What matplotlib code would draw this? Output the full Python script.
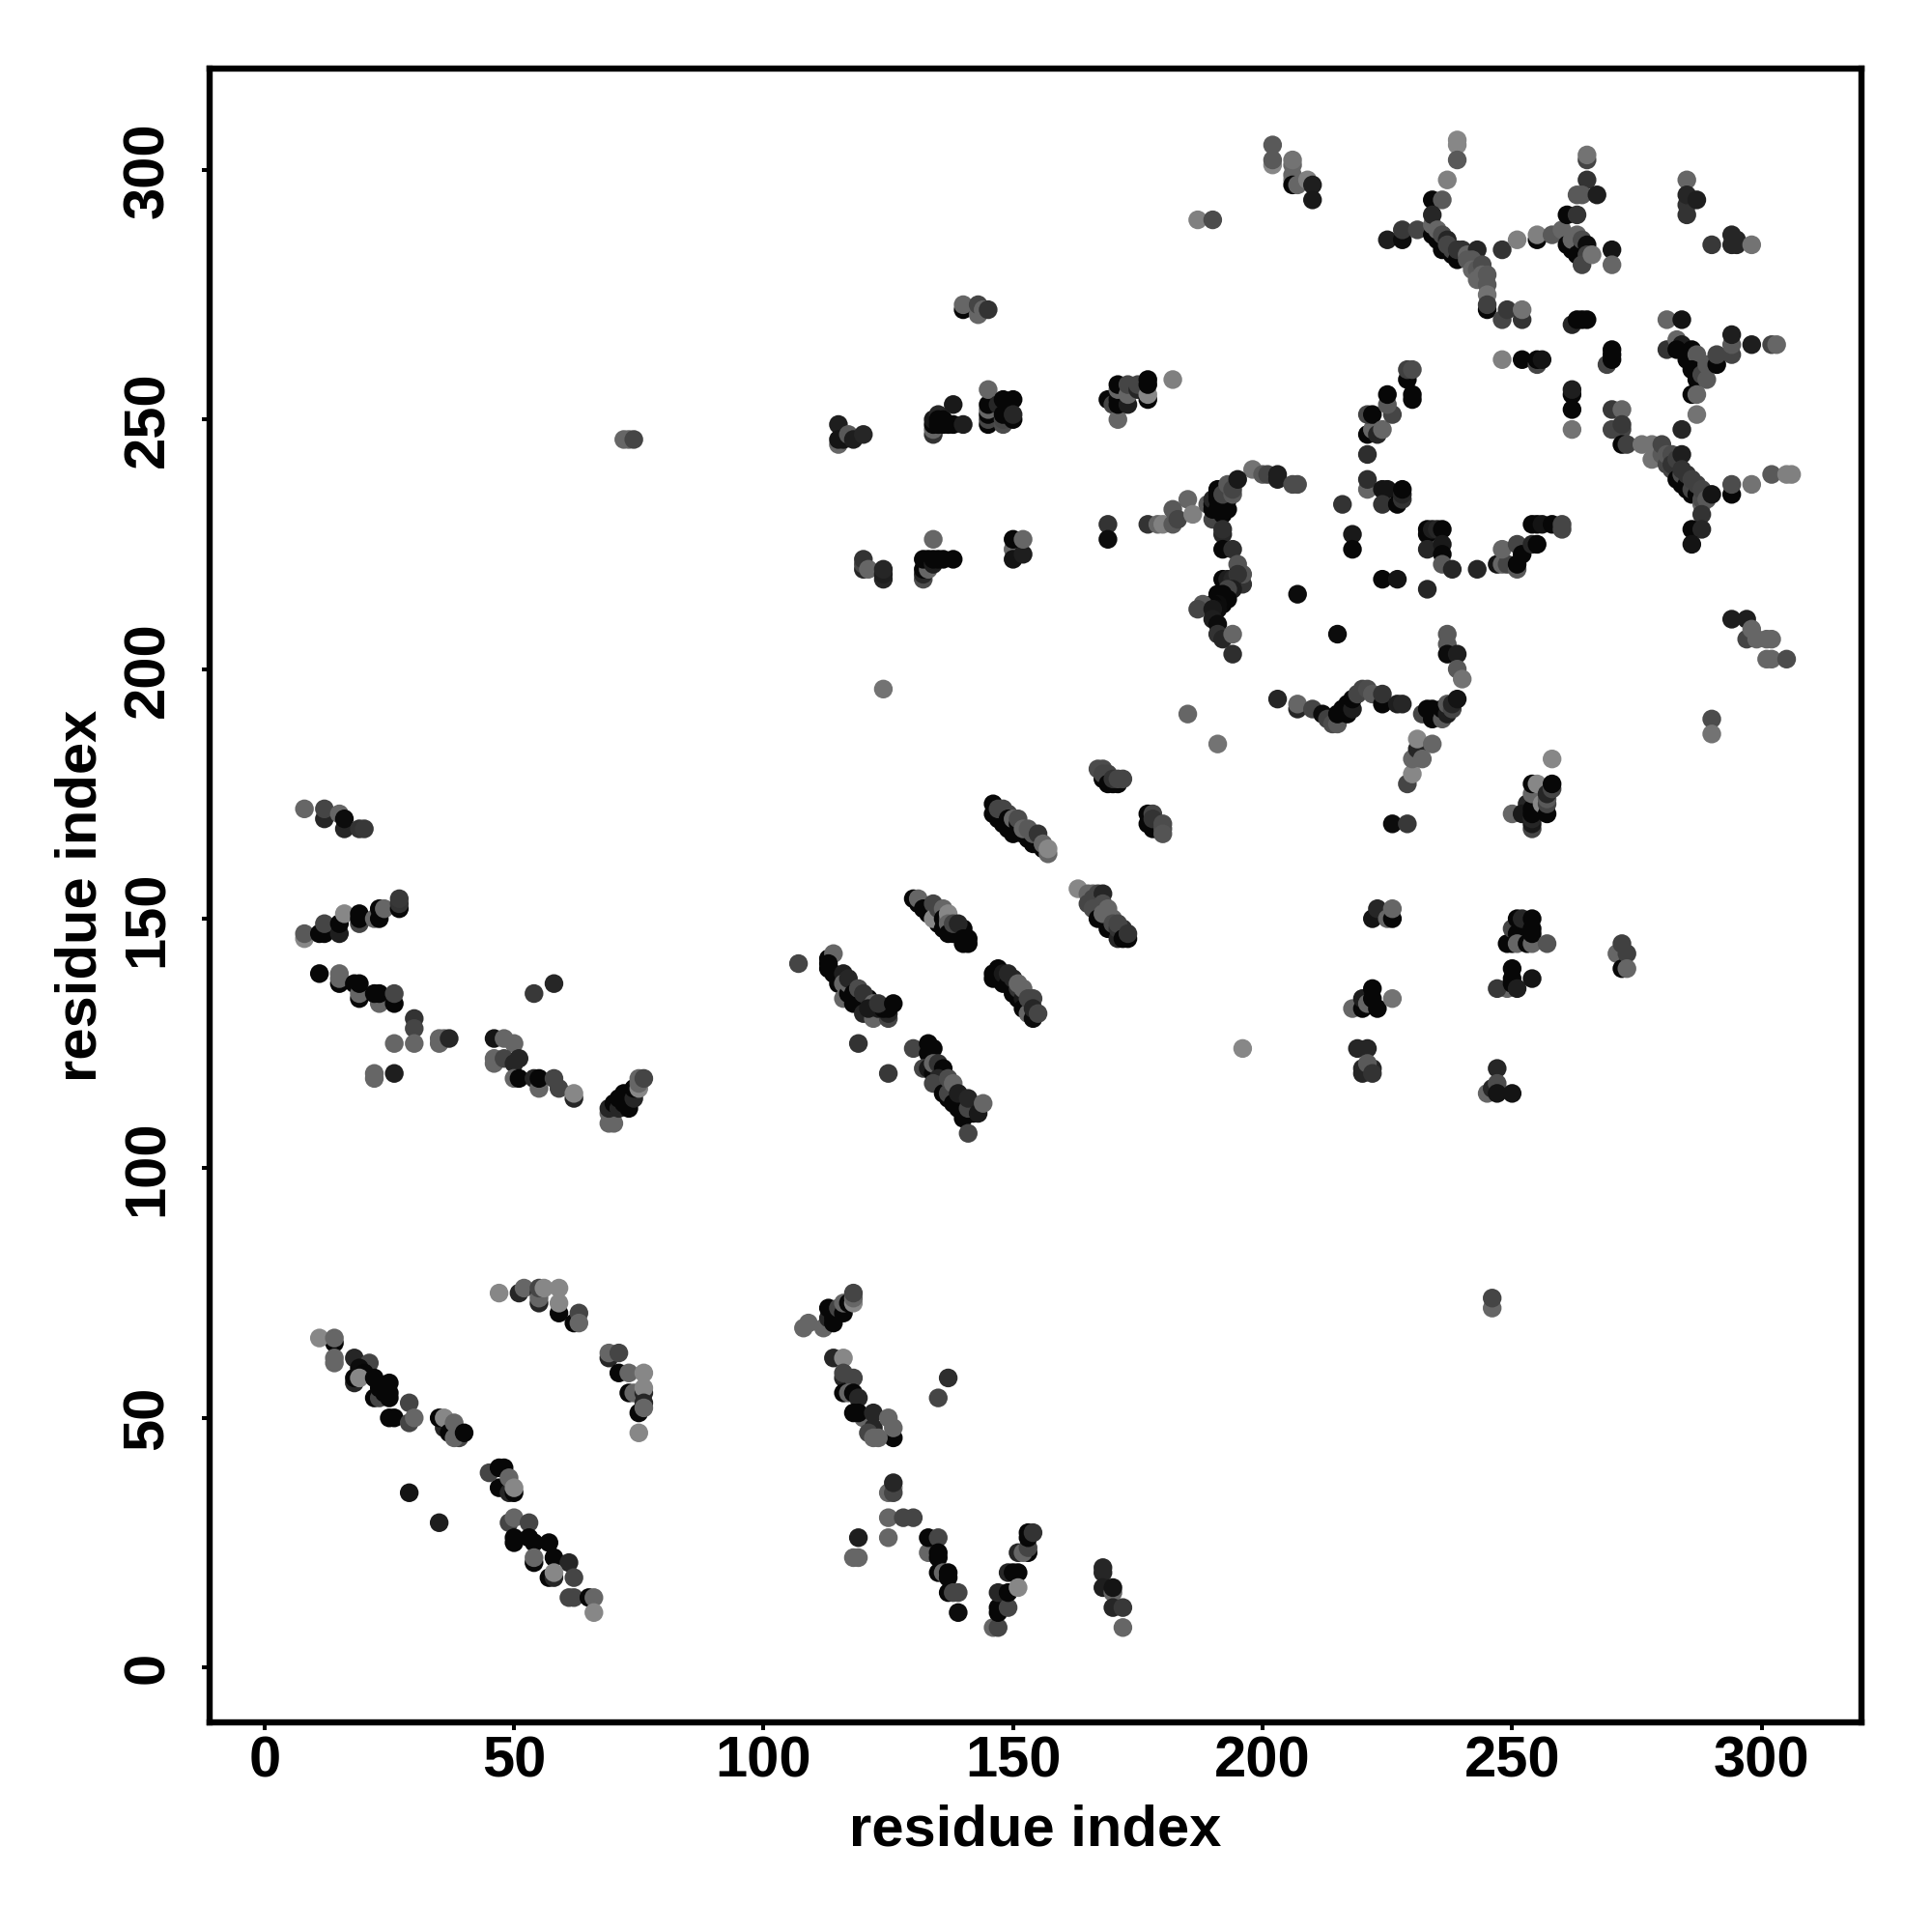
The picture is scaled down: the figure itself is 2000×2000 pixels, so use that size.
#!/usr/bin/env python3
import matplotlib
matplotlib.use('Agg')
matplotlib.rcParams.update({'font.family': ['Liberation Sans', 'DejaVu Sans'], 'font.weight': 'bold'})
import matplotlib.pyplot as plt

# contacts, (residue i, residue j, grey score), one list per region
lower_left = [
    (14,65,.03),(11,66,.53),(14,66,.4),(14,62,.4),(14,61,.4),(18,57,.15),(18,58,.03),(18,62,.15),(21,61,.27),(19,60,.05),(20,59,.03),(19,58,.53),
    (22,54,.03),(23,54,.27),(22,58,.03),(23,56,.03),(24,55,.03),(25,57,.03),(25,55,.03),(25,54,.03),(29,53,.27),(25,50,.03),(26,50,.03),(29,49,.27),(30,50,.4),
    (36,48,.15),(35,50,.03),(36,50,.53),(37,47,.03),(39,46,.27),(38,46,.4),(38,49,.4),(40,47,.03),
    (47,36,.03),(45,39,.27),(47,40,.03),(48,40,.03),(49,35,.15),(50,35,.03),(49,38,.4),(50,36,.53),
    (49,29,.27),(50,30,.4),(53,29,.27),(50,25,.03),(50,26,.03),(53,26,.03),(54,25,.03),(57,25,.03),(54,21,.03),(54,22,.4),(58,22,.03),(61,21,.15),
    (57,18,.03),(58,18,.15),(58,19,.53),(62,18,.27),(61,14,.27),(62,14,.27),(65,14,.03),(66,14,.4),(66,11,.53),
    (29,35,.08),(35,29,.12),
]
lower_arc = [
    (47,75,.53),(51,75,.15),(52,76,.4),(55,73,.15),(55,75,.15),(55,74,.4),(55,76,.27),(56,76,.53),(59,76,.53),(59,71,.03),(59,73,.53),(62,69,.03),(63,71,.27),(63,69,.4),
    (69,62,.15),(69,63,.4),(71,63,.27),(71,59,.03),(73,59,.4),(76,59,.53),(73,55,.03),(74,55,.4),(76,55,.15),(76,56,.53),(75,51,.03),(76,53,.15),(76,52,.4),(75,47,.53),
]
lower_mid = [
    (108,68,.4),(109,69,.4),(112,68,.4),(113,70,.15),(114,69,.03),(114,70,.03),(113,72,.03),(115,72,.27),(116,71,.03),(116,73,.4),(117,73,.03),(118,73,.53),(118,74,.4),(118,75,.27),
    (114,62,.15),(116,62,.53),(116,58,.15),(116,59,.27),(118,58,.27),(116,55,.03),(117,55,.4),(118,55,.03),(119,54,.15),(120,50,.4),(118,51,.03),(119,51,.03),
    (122,51,.15),(122,48,.15),(121,47,.27),(126,46,.03),(122,46,.4),(123,46,.4),(125,50,.4),(126,48,.4),
    (126,36,.53),(125,35,.4),(126,35,.27),(126,37,.15),(125,30,.4),(128,30,.27),(130,30,.27),(125,26,.4),(119,26,.12),(118,22,.4),(119,22,.4),(137,58,.18),(135,54,.27),
    (133,23,.4),(133,26,.03),(135,26,.27),(135,22,.03),(135,23,.03),(135,19,.03),(136,19,.4),(137,18,.03),(137,19,.03),(137,15,.03),(138,15,.27),(139,15,.27),(139,11,.05),
    (146,8,.4),(147,8,.27),(147,11,.03),(147,12,.03),(147,15,.15),(149,12,.27),(149,15,.03),(149,19,.15),(150,19,.03),(151,19,.03),(151,16,.53),(151,23,.15),
    (153,23,.03),(152,23,.4),(153,24,.27),(153,26,.03),(153,27,.03),(154,27,.2),
    (168,20,.15),(168,19,.15),(168,16,.12),(170,15,.4),(170,16,.08),(170,12,.15),(172,12,.22),(172,8,.4),
    (246,72,.4),(246,74,.27),
]
left_band = [
    (8,172,.4),(12,170,.15),(12,172,.27),(15,171,.4),(16,168,.15),(16,170,.05),(19,168,.2),(20,168,.22),
    (8,146,.53),(8,147,.35),(11,147,.03),(12,147,.03),(12,149,.27),(15,147,.12),(15,149,.03),(16,151,.53),(19,149,.27),(19,150,.03),(19,151,.03),
    (22,150,.4),(23,150,.03),(23,152,.03),(24,152,.4),(27,152,.03),(27,153,.2),(27,154,.22),
    (11,139,.03),(15,137,.03),(15,138,.4),(15,139,.4),(18,137,.03),(19,134,.03),(19,135,.4),(19,137,.03),(23,133,.4),(22,135,.03),(23,135,.03),(26,133,.03),(26,135,.27),
    (30,130,.2),(30,128,.27),(30,125,.4),(26,125,.4),(22,118,.4),(22,119,.4),(26,119,.12),(35,125,.4),(35,126,.4),(36,126,.4),(37,126,.15),
    (54,135,.22),(58,137,.15),
    (46,126,.08),(48,126,.4),(50,125,.4),(46,121,.4),(46,122,.4),(48,122,.27),(50,121,.15),(51,122,.15),(50,118,.4),(51,118,.03),(54,118,.15),(55,116,.4),(55,118,.03),
    (58,118,.27),(59,116,.27),(62,114,.15),(62,115,.53),
    (69,109,.4),(70,109,.4),(69,111,.4),(69,112,.15),(70,113,.03),(71,112,.15),(71,114,.03),(72,113,.03),(73,112,.03),(72,115,.03),(74,114,.15),(74,116,.03),(75,116,.53),(75,117,.4),(75,118,.4),(76,118,.27),
]
centre_strands = [
    (107,141,.27),(113,140,.03),(113,142,.03),(114,143,.4),(113,141,.03),(114,139,.03),(115,137,.03),(115,138,.03),(116,139,.12),(116,137,.4),(116,134,.4),(117,135,.03),(117,137,.4),(117,138,.15),(118,135,.03),(118,133,.03),
    (119,133,.03),(120,133,.03),(121,134,.03),(120,131,.15),(119,136,.3),(120,135,.2),(122,133,.4),(122,130,.4),(125,130,.27),(125,131,.15),(121,132,.1),(123,132,.1),(124,132,.03),(125,132,.03),(123,133,.2),(126,133,.03),(119,125,.2),(125,119,.22),
    (130,124,.27),(133,123,.03),(133,125,.03),(134,124,.03),(132,120,.27),(133,120,.1),(134,119,.03),(135,117,.03),(134,121,.4),(135,121,.2),(136,120,.03),(135,118,.15),(134,117,.27),(136,115,.03),(137,114,.03),(137,115,.27),(137,118,.3),(138,113,.03),(138,117,.4),
    (139,112,.03),(140,110,.03),(142,111,.03),(139,114,.03),(140,113,.03),(139,115,.12),(141,112,.27),(141,114,.15),(143,111,.1),(144,113,.4),(141,107,.27),
    (130,154,.03),(131,153,.03),(131,154,.4),(132,152,.03),(133,151,.03),(134,151,.03),(134,153,.27),(135,149,.03),(134,150,.53),(135,152,.27),(136,152,.4),(136,150,.03),(136,148,.03),(137,150,.35),(137,151,.53),(137,149,.4),(137,147,.03),(138,147,.03),(140,148,.03),(138,149,.27),(139,149,.15),
    (140,145,.03),(141,145,.03),(140,146,.03),(141,146,.03),
    (146,138,.03),(146,139,.03),(147,138,.03),(147,140,.03),(148,137,.03),(148,139,.1),(149,137,.03),(150,135,.03),(149,139,.15),(150,138,.15),(151,134,.03),(151,136,.2),(151,137,.4),(152,134,.1),(152,136,.4),(152,132,.03),(153,133,.03),(153,131,.4),(154,130,.05),(153,134,.27),(154,134,.27),(154,132,.15),(155,131,.27),
    (146,171,.03),(146,173,.03),(147,170,.03),(148,169,.03),(147,172,.27),(149,168,.03),(150,167,.03),(148,172,.27),(149,171,.27),(149,170,.03),(150,170,.4),(151,169,.03),(151,170,.3),(152,167,.03),(153,166,.03),(154,165,.03),(155,165,.03),(156,164,.03),(152,168,.4),(153,168,.35),(154,167,.35),(155,167,.2),(156,165,.4),(157,163,.4),(157,164,.53),
    (163,156,.53),(165,155,.4),(166,155,.4),(166,154,.27),(167,155,.27),(168,155,.15),(165,153,.27),(166,152,.3),(167,150,.03),(168,150,.03),(169,148,.03),(168,153,.3),(169,150,.03),(170,148,.03),(168,151,.4),(169,152,.4),(170,150,.4),(170,149,.3),(171,146,.15),(171,148,.2),(172,148,.2),(171,149,.27),(172,146,.03),(173,146,.03),(173,147,.2),
    (168,178,.03),(170,177,.03),(167,180,.3),(168,180,.3),(169,179,.27),(168,179,.27),(169,177,.03),(171,177,.03),(170,178,.2),(171,178,.27),(172,178,.27),
    (177,169,.03),(178,168,.03),(177,171,.03),(178,171,.27),(178,170,.2),(180,169,.3),(180,168,.3),(180,167,.33),
    (185,191,.4),(191,185,.45),(196,124,.53),(124,196,.45),
]
right_mid = [
    (229,177,.27),(230,179,.53),(230,182,.4),(231,184,.15),(232,182,.4),(231,186,.53),(234,185,.4),(226,169,.05),(229,169,.22),(258,182,.53),
    (250,171,.4),(253,173,.15),(252,171,.1),(254,168,.27),(254,169,.1),(254,170,.15),(254,171,.03),(254,172,.03),(254,175,.4),(254,177,.03),(255,177,.53),
    (256,173,.53),(257,171,.03),(257,173,.27),(257,174,.35),(257,175,.15),(258,176,.27),(258,177,.03),
    (222,150,.08),(223,152,.15),(225,150,.4),(226,150,.03),(226,152,.4),
    (249,145,.03),(250,145,.03),(250,148,.27),(251,147,.03),(251,145,.4),(251,150,.03),(252,150,.15),(253,145,.03),(254,145,.4),(254,147,.03),(254,148,.03),(254,150,.03),(257,145,.33),
    (249,136,.4),(247,136,.22),(250,140,.03),(250,137,.03),(250,138,.03),(251,136,.12),(254,138,.08),
    (271,143,.4),(272,140,.03),(272,145,.25),(273,143,.25),(273,140,.4),
    (218,132,.4),(220,132,.03),(220,134,.12),(221,133,.4),(222,134,.03),(222,136,.03),(223,132,.03),(226,134,.45),
    (219,124,.15),(221,124,.15),(222,120,.15),(220,119,.15),(220,120,.15),(221,121,.35),(222,119,.2),
    (247,120,.15),(245,115,.4),(246,116,.15),(247,117,.3),(247,115,.08),(250,115,.08),
    (290,190,.3),(290,187,.45),(294,210,.12),(297,210,.12),(297,206,.27),(298,208,.4),(299,206,.4),(301,206,.4),(302,206,.4),(301,202,.4),(302,202,.4),(305,202,.3),
]
upper_mid = [
    (72,246,.4),(73,246,.4),(74,246,.27),
    (115,249,.12),(115,245,.4),(115,246,.08),(116,246,.08),(117,247,.35),(118,246,.12),(120,247,.15),
    (134,247,.2),(134,248,.4),(134,249,.03),(134,250,.1),(135,251,.15),(135,250,.03),(135,249,.03),(136,249,.03),(136,250,.03),(137,249,.03),(138,249,.03),(138,253,.1),(140,249,.12),
    (145,249,.03),(145,250,.27),(145,251,.03),(145,252,.4),(145,253,.03),(145,256,.4),(148,249,.3),(148,250,.27),(147,253,.15),(148,251,.03),(148,254,.03),(150,250,.03),(150,254,.03),(150,251,.15),
    (169,254,.03),(170,253,.27),(171,250,.4),(171,253,.03),(171,254,.03),(171,256,.4),(171,257,.03),(173,253,.12),(173,255,.4),(173,257,.27),(175,256,.15),(175,257,.27),(177,254,.03),(177,255,.53),(177,257,.03),(177,258,.03),(182,258,.5),
    (120,220,.15),(120,221,.27),(120,222,.2),(121,220,.4),(124,218,.15),(124,219,.12),(124,220,.15),
    (132,218,.3),(132,219,.15),(132,220,.03),(133,220,.4),(132,222,.03),(133,222,.03),(134,221,.12),(134,222,.03),(135,222,.03),(136,222,.03),(138,222,.03),(134,226,.4),
    (150,224,.4),(150,222,.08),(152,223,.12),(150,226,.03),(152,226,.4),
    (202,305,.35),(202,301,.53),(202,302,.35),(206,298,.53),(206,299,.4),(206,301,.4),(206,302,.45),(206,297,.03),(207,297,.4),(209,298,.5),(210,297,.12),(210,294,.1),(187,290,.5),(190,290,.3),
]
upper_right = [
    (239,305,.53),(239,306,.53),(239,302,.35),(237,298,.5),(234,294,.03),(236,294,.35),
    (225,286,.12),(228,286,.05),(228,288,.22),(231,288,.27),(234,287,.03),(234,289,.4),(234,291,.15),(235,286,.03),(236,284,.03),(237,284,.03),(238,283,.03),(235,288,.4),(236,287,.3),(237,286,.15),(237,285,.27),(238,284,.27),(239,282,.03),(240,283,.03),(239,284,.2),(240,284,.2),(241,283,.4),
    (243,284,.15),(241,282,.35),(242,282,.35),(242,280,.4),(243,280,.35),(243,278,.4),(244,281,.3),(244,279,.4),(245,279,.35),(245,277,.35),(245,275,.45),(245,272,.03),(245,273,.25),(248,270,.27),(249,272,.22),(252,270,.2),(252,272,.45),
    (248,284,.2),(251,286,.5),(255,286,.03),(255,287,.5),(258,287,.35),(260,288,.4),(261,291,.03),(263,291,.2),(265,298,.2),(265,302,.27),(265,303,.45),(263,295,.35),(264,295,.35),(267,295,.12),
    (261,285,.03),(262,284,.03),(262,286,.4),(263,287,.4),(263,283,.03),(264,284,.03),(264,286,.3),(265,285,.05),(265,283,.25),(264,281,.27),(266,283,.45),(270,284,.08),(270,281,.4),
    (285,298,.4),(285,291,.2),(285,293,.2),(285,295,.15),(287,294,.12),(290,285,.22),(294,287,.15),(294,285,.15),(295,285,.15),(295,286,.15),(298,285,.45),
    (262,269,.15),(263,270,.03),(264,270,.03),(265,270,.03),(269,261,.27),(270,262,.03),(270,263,.03),(270,264,.03),
    (248,262,.5),(252,262,.03),(255,261,.27),(255,262,.03),(256,262,.08),(262,255,.03),(262,256,.12),(262,252,.03),(262,248,.45),
    (270,252,.22),(272,252,.4),(270,248,.27),(272,248,.27),(272,249,.22),(272,245,.03),(273,245,.25),
    (281,270,.4),(284,270,.08),(281,264,.2),(283,266,.4),(284,265,.12),(283,264,.03),(286,264,.03),(285,262,.03),(287,263,.35),(286,260,.03),(287,258,.03),(288,259,.27),(289,261,.35),(289,258,.35),(291,261,.03),(291,263,.27),
    (294,263,.27),(294,265,.35),(294,267,.12),(298,265,.12),(302,265,.27),(303,265,.4),(286,255,.03),(287,255,.4),(287,251,.45),(284,248,.15),
    (276,245,.45),(278,245,.45),(278,242,.45),(280,243,.35),(280,245,.27),(281,241,.27),(281,243,.35),(282,243,.3),(282,240,.27),(282,241,.2),(283,242,.25),(284,243,.12),(283,238,.03),(284,237,.03),(285,236,.03),(286,235,.03),(284,239,.3),(284,240,.2),(285,237,.03),(285,239,.2),(286,236,.27),(286,238,.25),(287,235,.03),(287,237,.25),(288,233,.4),(288,234,.3),(288,236,.27),(289,234,.35),(290,235,.08),
    (294,235,.03),(294,237,.3),(298,237,.45),(302,239,.35),(305,239,.5),(306,239,.5),(288,231,.2),(286,228,.03),(288,228,.15),(286,225,.08),
]
upper_loops = [
    (185,234,.4),(177,229,.2),(179,229,.4),(180,229,.5),(182,229,.35),(182,232,.35),(183,230,.27),(186,231,.5),(169,229,.2),(169,226,.05),
    (198,240,.45),(200,239,.35),(201,239,.27),(203,238,.12),(203,239,.12),(206,237,.3),(207,237,.3),
    (189,233,.35),(190,230,.27),(190,232,.03),(190,233,.03),(190,234,.15),(191,234,.03),(191,235,.03),(191,236,.03),(191,232,.03),(192,231,.03),(192,233,.03),(192,234,.03),(193,232,.03),(193,234,.03),(192,235,.27),(193,237,.35),(194,235,.35),(194,236,.27),(195,238,.1),
    (192,227,.15),(192,228,.18),(192,224,.03),(194,224,.18),(195,221,.33),(196,217,.2),(196,219,.33),(192,218,.03),(193,218,.12),(194,218,.15),(195,219,.2),(194,216,.12),(193,216,.27),(193,214,.03),(192,215,.03),(192,213,.03),(191,215,.03),(191,213,.05),(190,213,.03),(188,213,.35),(187,212,.27),(191,212,.05),(190,212,.1),(190,210,.12),(191,209,.05),(191,207,.2),(192,206,.15),(194,207,.4),(194,203,.18),
    (207,215,.05),(215,207,.05),(216,233,.2),(218,227,.1),(218,224,.03),(221,243,.18),(221,236,.4),(221,238,.18),(224,236,.08),(225,236,.08),(224,233,.2),(227,233,.03),(228,234,.2),(228,235,.15),(228,236,.03),(224,218,.03),(227,218,.08),(233,216,.15),
    (221,247,.03),(222,248,.4),(223,247,.15),(221,251,.27),(222,251,.03),(224,248,.4),(226,251,.27),(225,253,.35),(225,255,.03),(229,258,.03),(229,260,.25),(230,260,.3),(230,254,.03),(230,255,.03),
    (233,227,.03),(233,228,.03),(234,228,.12),(235,228,.15),(236,228,.03),(233,224,.15),(236,225,.1),(236,223,.03),(236,221,.35),(238,220,.15),(243,220,.15),
    (247,221,.08),(248,221,.4),(249,221,.27),(248,224,.4),(251,220,.35),(251,221,.03),(251,225,.27),(252,223,.03),(254,225,.15),(255,225,.03),(254,229,.03),(255,229,.03),(256,229,.08),(258,229,.03),(260,228,.27),(260,229,.27),
    (203,194,.15),(207,192,.15),(207,193,.4),(210,192,.27),(212,191,.05),(213,190,.25),(214,189,.3),(215,189,.35),(215,191,.03),(216,192,.03),(217,191,.03),(217,193,.03),(218,192,.12),(218,194,.03),(219,195,.27),(220,196,.27),(221,196,.3),(222,195,.35),
    (224,193,.03),(224,195,.2),(227,193,.12),(228,193,.15),(232,191,.27),(233,192,.03),(234,190,.03),(234,192,.03),(235,191,.03),(236,190,.35),(236,192,.03),(237,191,.12),(237,193,.35),(238,192,.27),(238,193,.15),(239,194,.08),
    (237,205,.35),(237,207,.35),(237,203,.05),(239,203,.12),(239,200,.35),(240,198,.45),
    (140,272,.03),(140,273,.4),(143,271,.4),(143,273,.27),(144,272,.4),(145,272,.2),
]

regions = [lower_left, lower_arc, lower_mid, left_band, centre_strands, right_mid, upper_mid, upper_right, upper_loops]
contacts = [c for region in regions for c in region]
res_i = [c[0] for c in contacts]
res_j = [c[1] for c in contacts]
score = [c[2] for c in contacts]

fig = plt.figure(figsize=(20, 20), dpi=100)
ax = fig.add_axes([217/2000, 1 - 1783/2000, 1710/2000, 1712/2000])
ax.scatter(res_i, res_j, c=score, cmap='gray', vmin=0, vmax=1, s=195, linewidths=0)

ax.set_xlim(-11, 320)
ax.set_ylim(-11, 320.3)
ax.set_xticks(range(0, 301, 50))
ax.set_yticks(range(0, 301, 50))
ax.tick_params(length=6, width=2.9, labelsize=43)
ax.tick_params(axis='x', pad=4)
ax.tick_params(axis='y', pad=20)
for lab in ax.get_yticklabels():
    lab.set_rotation(90)
    lab.set_va('center')
for spine in ax.spines.values():
    spine.set_linewidth(4.6)
ax.set_xlabel('residue index', fontsize=43, fontweight='bold', labelpad=11)
ax.set_ylabel('residue index', fontsize=43, fontweight='bold', labelpad=10)

fig.savefig('out.png', dpi=100)
